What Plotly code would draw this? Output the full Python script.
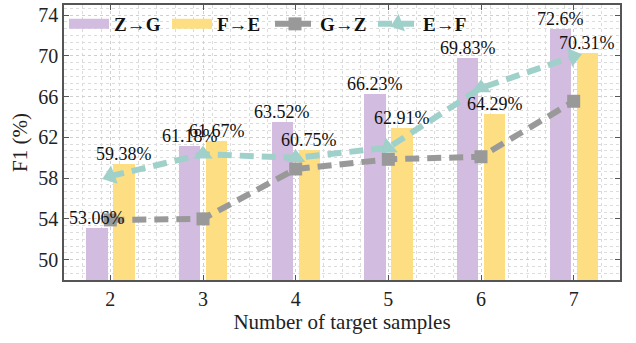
import plotly.graph_objects as go

samples = [2, 3, 4, 5, 6, 7]
z_to_g = [53.06, 61.18, 63.52, 66.23, 69.83, 72.6]
f_to_e = [59.38, 61.67, 60.75, 62.91, 64.29, 70.31]
g_to_z = [53.9, 54.0, 58.9, 59.85, 60.1, 65.55]
e_to_f = [58.2, 60.35, 60.0, 61.0, 66.85, 69.95]
tri_angles = [250, 0, 0, 230, 0, 75]

PURPLE = "#D2BCDF"
YELLOW = "#FDDE83"
GRAY = "#999999"
TEAL = "#9FD0C9"
FONT = "Liberation Serif"

BAR_W = 0.23
OFF_A = -0.259
OFF_B = 0.033

fig = go.Figure()
fig.add_trace(go.Bar(x=samples, y=z_to_g, width=BAR_W, offset=OFF_A,
                     marker=dict(color=PURPLE, line=dict(width=0)),
                     showlegend=False, name="Z→G"))
fig.add_trace(go.Bar(x=samples, y=f_to_e, width=BAR_W, offset=OFF_B,
                     marker=dict(color=YELLOW, line=dict(width=0)),
                     showlegend=False, name="F→E"))
# legend entries for the bars
fig.add_trace(go.Scatter(x=[None], y=[None], mode="lines", name="<b>Z→G</b>",
                         line=dict(color=PURPLE, width=16)))
fig.add_trace(go.Scatter(x=[None], y=[None], mode="lines", name="<b>F→E</b>",
                         line=dict(color=YELLOW, width=16)))
fig.add_trace(go.Scatter(x=samples, y=g_to_z, mode="lines+markers", name="<b>G→Z</b>",
                         line=dict(color=GRAY, width=6, dash="14px,8px"),
                         marker=dict(symbol="square", size=13, color=GRAY)))
fig.add_trace(go.Scatter(x=samples, y=e_to_f, mode="lines+markers", name="<b>E→F</b>",
                         line=dict(color=TEAL, width=6, dash="14px,8px"),
                         marker=dict(symbol="triangle-up", size=17, color=TEAL,
                                     angle=tri_angles)))

for xs, ys, off in ((samples, z_to_g, OFF_A), (samples, f_to_e, OFF_B)):
    for xv, yv in zip(xs, ys):
        fig.add_annotation(x=xv + off + BAR_W / 2, y=yv, xref="x", yref="y",
                           text=f"{yv}%", showarrow=False, yanchor="bottom",
                           yshift=-2, font=dict(family=FONT, size=18, color="#111"))

axis_common = dict(showline=True, linecolor="#555", linewidth=1.5, mirror="ticks",
                   ticks="inside", ticklen=5, tickcolor="#555", tickwidth=1.2,
                   showgrid=True, gridcolor="#cfcfcf", griddash="dot", gridwidth=1,
                   zeroline=False,
                   tickfont=dict(family=FONT, size=20, color="#222"))

fig.update_xaxes(range=[1.5, 7.5], tickmode="array", tickvals=samples,
                 ticktext=[str(s) for s in samples],
                 title=dict(text="Number of target samples",
                            font=dict(family=FONT, size=21, color="#222"), standoff=4),
                 minor=dict(dtick=0.2, tick0=1.5, showgrid=True, gridcolor="#dcdcdc",
                            griddash="dot", gridwidth=1, ticks=""),
                 **axis_common)
fig.update_yaxes(range=[48, 75], tickmode="array", tickvals=[50, 54, 58, 62, 66, 70, 74],
                 title=dict(text="F1 (%)", font=dict(family=FONT, size=21, color="#222"),
                            standoff=5),
                 minor=dict(dtick=4 / 6, tick0=50, showgrid=True, gridcolor="#dcdcdc",
                            griddash="dot", gridwidth=1, ticks=""),
                 **axis_common)

fig.update_layout(
    width=636, height=343,
    margin=dict(l=64, r=16, t=3, b=63),
    plot_bgcolor="white", paper_bgcolor="white",
    bargap=0, barmode="overlay",
    font=dict(family=FONT, color="#111"),
    legend=dict(orientation="h", x=0.0, y=1.0, xanchor="left", yanchor="top",
                bgcolor="rgba(0,0,0,0)", itemwidth=40, entrywidth=48,
                font=dict(family=FONT, size=19, color="#111"),
                tracegroupgap=0, itemsizing="trace"),
)

fig.write_html("out.html")
